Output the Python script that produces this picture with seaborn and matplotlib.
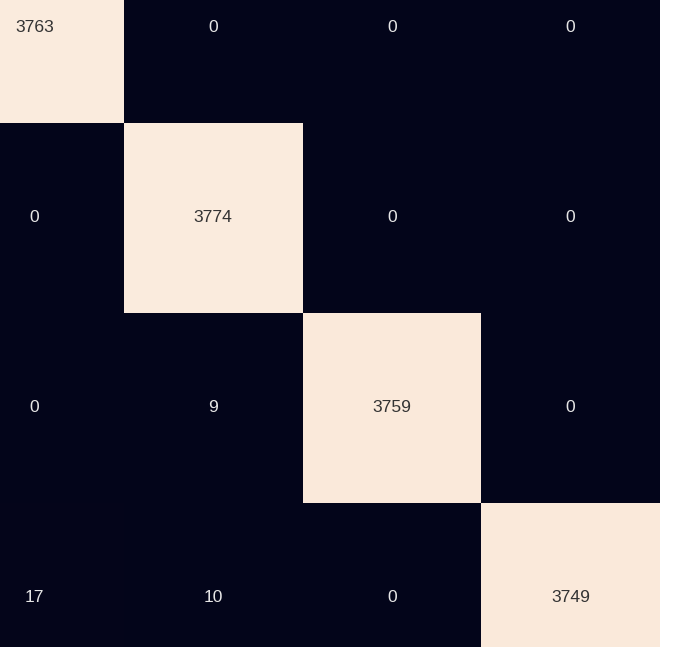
import matplotlib
matplotlib.use("Agg")
import matplotlib.pyplot as plt
import seaborn as sns
import numpy as np
import pandas as pd

labels = ["0", "1", "2", "3"]
row0 = [3763, 0, 0, 0]
row1 = [0, 3774, 0, 0]
row2 = [0, 9, 3759, 0]
row3 = [17, 10, 0, 3749]

cm = pd.DataFrame([row0, row1, row2, row3], index=labels, columns=labels)

plt.rcParams['font.family'] = ['Liberation Sans', 'DejaVu Sans']
fig = plt.figure(figsize=(6.9, 6.47), dpi=100)
W, H = 690.0, 647.0
left, right, top, bottom = -54.7, 660.0, -67.0, 693.0
ax = fig.add_axes([left / W, (H - bottom) / H, (right - left) / W, (bottom - top) / H])
sns.heatmap(cm, annot=True, fmt="d", cbar=False, ax=ax,
            annot_kws={"fontsize": 12.6})
for t in ax.texts:
    t.set_color("#333333" if t.get_color() != "w" else "#e6e6e6")
ax.set_xticks([])
ax.set_yticks([])
ax.set_xlabel("")
ax.set_ylabel("")
fig.savefig("out.png", dpi=100)
